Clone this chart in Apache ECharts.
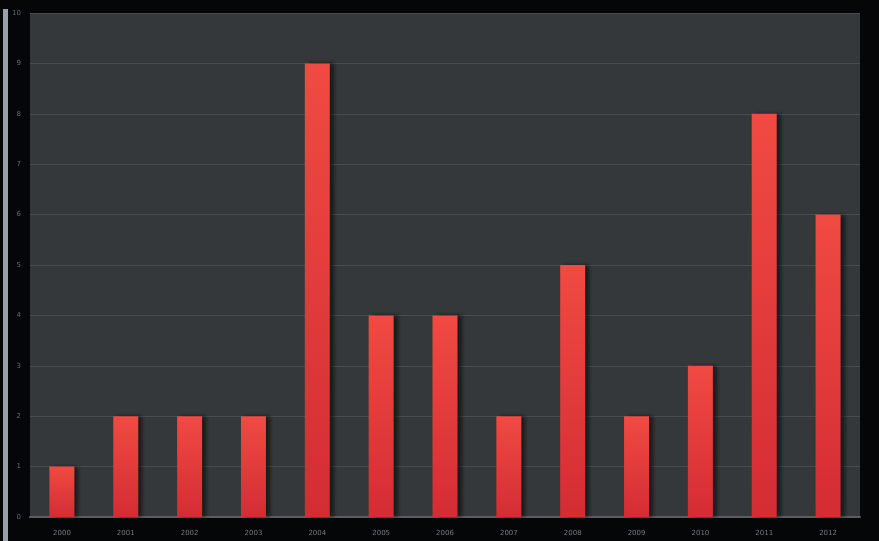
<!DOCTYPE html>
<html>
<head>
<meta charset="utf-8">
<script src="https://cdn.jsdelivr.net/npm/echarts@6/dist/echarts.min.js"></script>
<style>
html,body{margin:0;padding:0;background:#050608;}
#c{width:879px;height:541px;}
</style>
</head>
<body>
<div id="c"></div>
<script>
const categories = ['2000','2001','2002','2003','2004','2005','2006','2007','2008','2009','2010','2011','2012'];
const values = [1, 2, 2, 2, 9, 4, 4, 2, 5, 2, 3, 8, 6];
const yTicks = [0, 1, 2, 3, 4, 5, 6, 7, 8, 9, 10];

const chart = echarts.init(document.getElementById('c'));
chart.setOption({
  backgroundColor: '#050608',
  animation: false,
  graphic: [{
    type: 'rect', left: 3, top: 9, shape: {width: 5, height: 532},
    style: {fill: '#9aa0a8'}
  }],
  grid: {
    left: 30, right: 19, top: 13, bottom: 24,
    show: true, backgroundColor: '#34383a', borderWidth: 0
  },
  xAxis: {
    type: 'category',
    data: categories,
    axisLine: {show: true, lineStyle: {color: '#5a5e62', width: 2}},
    axisTick: {show: false},
    axisLabel: {color: '#767a80', fontSize: 7, margin: 13, fontFamily: 'DejaVu Sans'}
  },
  yAxis: {
    type: 'value',
    min: yTicks[0], max: yTicks[yTicks.length - 1], interval: 1,
    axisLine: {show: false},
    axisTick: {show: false},
    axisLabel: {color: '#676b70', fontSize: 7, margin: 9, fontFamily: 'DejaVu Sans'},
    splitLine: {show: true, lineStyle: {color: '#484c50', width: 1}}
  },
  series: [{
    type: 'bar',
    data: values,
    barWidth: 25,
    itemStyle: {
      color: new echarts.graphic.LinearGradient(0, 0, 0, 1, [
        {offset: 0, color: '#f04a42'},
        {offset: 1, color: '#d42c34'}
      ]),
      shadowColor: 'rgba(0,0,0,0.55)',
      shadowBlur: 4,
      shadowOffsetX: 4,
      shadowOffsetY: 0
    }
  }]
});
</script>
</body>
</html>
